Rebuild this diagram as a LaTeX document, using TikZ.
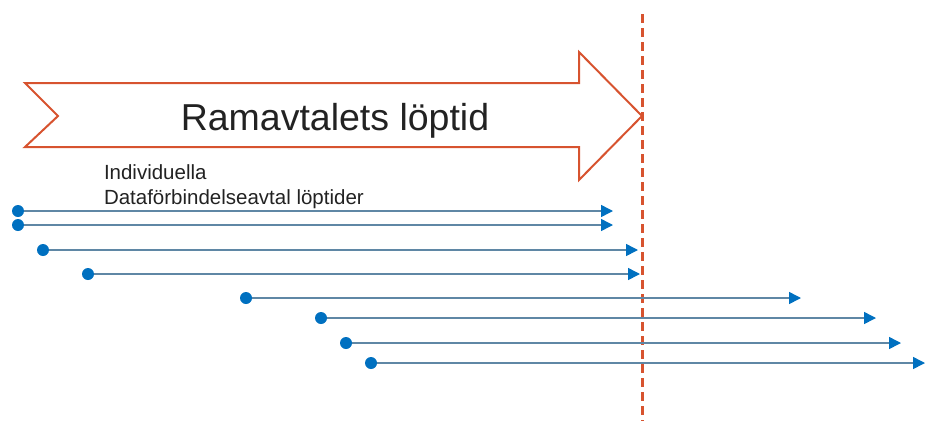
\documentclass[tikz,border=0pt]{standalone}
\usepackage{xcolor}
\usepackage{fontspec}
\setmainfont{Liberation Sans}
\usetikzlibrary{arrows.meta}
\definecolor{ramred}{RGB}{215,83,47}
\definecolor{dotblue}{RGB}{0,112,192}
\definecolor{lineblue}{RGB}{95,135,165}
\definecolor{textgray}{RGB}{34,34,34}

\begin{document}
\begin{tikzpicture}[y=1pt, x=1pt, yscale=-1, inner sep=0pt, outer sep=0pt,
    startdot/.style={circle, fill=dotblue, minimum size=12pt},
    runline/.style={draw=lineblue, line width=1.5pt,
      -{Triangle[length=12pt, width=12pt, fill=dotblue, color=dotblue]}}]
  \useasboundingbox (0,0) rectangle (925,421);
  % big arrow
  \path[draw=ramred, line width=2pt, line join=miter] (25,83) -- (579,83) -- (579,52) --
    (642,116) -- (579,180) -- (579,147) -- (25,147) -- (58,116) -- cycle;
  \node[anchor=base, text=textgray, font=\fontsize{37.5}{40}\selectfont] (ramtext)
    at (335,130) {Ramavtalets löptid};
  % end of the framework period
  \coordinate (slutTop) at (642,14);
  \coordinate (slutBot) at (642,421);
  \draw[ramred, line width=3pt, dash pattern=on 9pt off 5pt] (slutTop) -- (slutBot);
  \node[anchor=base west, align=left, text=textgray, font=\fontsize{20.5}{25}\selectfont]
    (indtext) at (104,204) {Individuella\\Dataförbindelseavtal löptider};
  % individual agreements
  \foreach \n/\xa/\xb/\yy in {1/18/613/211, 2/18/613/225, 3/43/638/250, 4/88/640/274,
      5/246/801/298, 6/321/876/318, 7/346/901/343, 8/371/925/363} {
    \coordinate (avtalEnd\n) at (\xb,\yy);
    \draw[runline] (\xa,\yy) -- (avtalEnd\n);
    \node[startdot] (avtal\n) at (\xa,\yy) {};
  }
\end{tikzpicture}
\end{document}
